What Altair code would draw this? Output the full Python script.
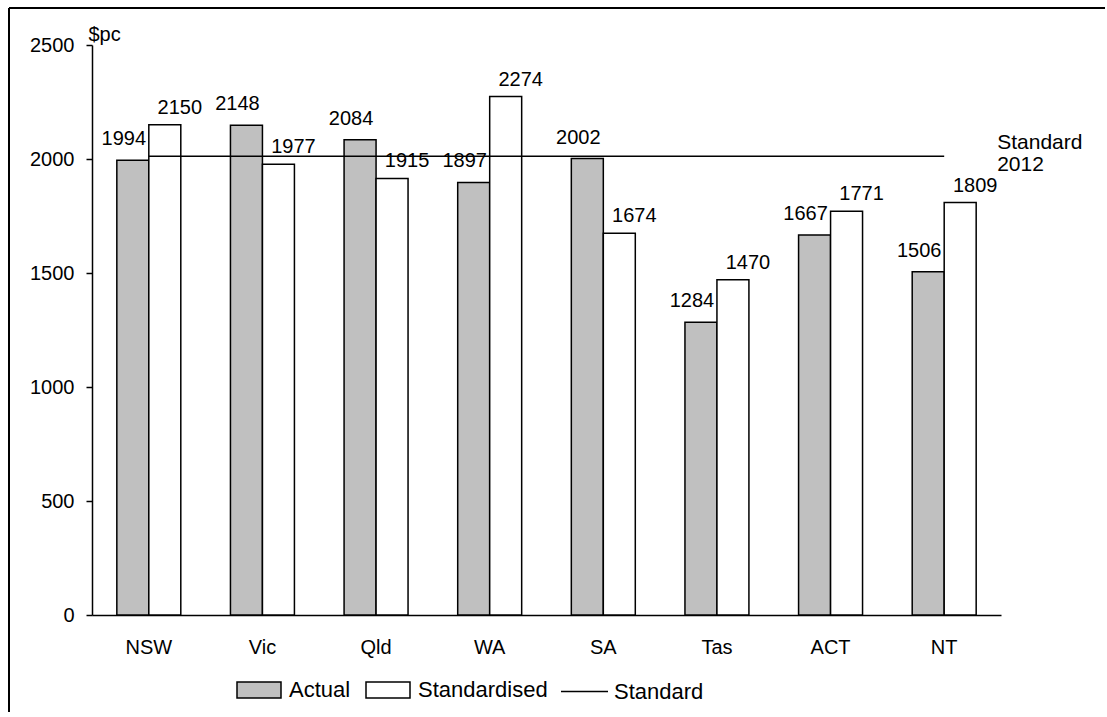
import altair as alt
import pandas as pd

# State-level spending, $ per capita
states = ["NSW", "Vic", "Qld", "WA", "SA", "Tas", "ACT", "NT"]
actual = [1994, 2148, 2084, 1897, 2002, 1284, 1667, 1506]
standardised = [2150, 1977, 1915, 2274, 1674, 1470, 1771, 1809]
standard_value = 2012
series_names = ["Actual", "Standardised"]
line_name = "Standard"
y_ticks = [0, 500, 1000, 1500, 2000, 2500]

bars = pd.DataFrame(
    [{"state": s, "series": series_names[0], "value": v} for s, v in zip(states, actual)]
    + [{"state": s, "series": series_names[1], "value": v} for s, v in zip(states, standardised)]
)
std_line = pd.DataFrame({"state": states, "line": [line_name] * len(states),
                         "value": [standard_value] * len(states)})
std_label = pd.DataFrame({"state": [states[-1]], "value": [standard_value],
                          "label": [["Standard", str(standard_value)]]})

FONT = "Liberation Sans"
W, H = 909, 570

x_scale = alt.Scale(domain=states, paddingInner=0.437, paddingOuter=0.2185)
y_scale = alt.Scale(domain=[0, 2500], nice=False)

x_enc = alt.X("state:N", scale=x_scale, sort=states,
              axis=alt.Axis(title=None, labelAngle=0, ticks=False, labelPadding=22,
                            labelFontSize=20, labelFont=FONT, labelColor="black",
                            domainColor="black", domainWidth=1.5))
y_enc = alt.Y("value:Q", scale=y_scale,
              axis=alt.Axis(values=y_ticks, format="d", grid=False, title="$pc",
                            titleAngle=0, titleX=-4, titleY=-5, titleAlign="left",
                            titleBaseline="alphabetic", titleFont=FONT,
                            titleFontSize=20, titleFontWeight="normal", titleColor="black",
                            labelFont=FONT, labelFontSize=20, labelColor="black",
                            labelPadding=12, tickSize=6, tickColor="black",
                            tickWidth=1.5, domainColor="black", domainWidth=1.5))

bar_path = "M-1,-0.36H1V0.36H-1Z"

bar_layer = alt.Chart(bars).mark_bar(stroke="black", strokeWidth=1.5).encode(
    x=x_enc,
    y=y_enc,
    xOffset=alt.XOffset("series:N", sort=series_names,
                        scale=alt.Scale(domain=series_names, paddingInner=0, paddingOuter=0)),
    fill=alt.Fill("series:N", sort=series_names,
                  scale=alt.Scale(domain=series_names, range=["#c0c0c0", "#ffffff"]),
                  legend=alt.Legend(title=None, orient="none", direction="horizontal",
                                    legendX=144, legendY=622, symbolType=bar_path,
                                    symbolSize=1936, symbolStrokeColor="black",
                                    symbolStrokeWidth=1.5, labelFont=FONT,
                                    labelFontSize=22, labelColor="black",
                                    labelOffset=7, columnPadding=12, symbolOpacity=1)),
)

def value_text(name, dx, dy):
    return alt.Chart(bars).transform_filter(
        alt.datum.series == name
    ).mark_text(font=FONT, fontSize=20, color="black", baseline="bottom",
                align="center", dx=dx, dy=dy).encode(
        x=alt.X("state:N", scale=x_scale, sort=states),
        xOffset=alt.XOffset("series:N", sort=series_names,
                            scale=alt.Scale(domain=series_names, paddingInner=0, paddingOuter=0)),
        y=alt.Y("value:Q", scale=y_scale),
        text="value:Q",
    )

actual_text = value_text("Actual", -9, -11)
std_text = value_text("Standardised", 15, -7)

line_layer = alt.Chart(std_line).mark_line(strokeWidth=1.5).encode(
    x=alt.X("state:N", scale=x_scale, sort=states),
    y=alt.Y("value:Q", scale=y_scale),
    stroke=alt.Stroke("line:N", scale=alt.Scale(domain=[line_name], range=["black"]),
                      legend=alt.Legend(title=None, orient="none", legendX=468,
                                        legendY=622, symbolType="stroke",
                                        symbolSize=2209, symbolStrokeWidth=1.5,
                                        labelFont=FONT, labelFontSize=22,
                                        labelColor="black", labelOffset=5)),
)

label_layer = alt.Chart(std_label).mark_text(
    font=FONT, fontSize=21, color="black", align="left", baseline="middle",
    dx=53, dy=-13, lineHeight=22
).encode(
    x=alt.X("state:N", scale=x_scale, sort=states),
    y=alt.Y("value:Q", scale=y_scale),
    text="label",
)

# Outer frame: top and left edges
frame_top = alt.Chart(pd.DataFrame({"k": [0]})).mark_rule(color="black", strokeWidth=2).encode(
    x=alt.value(-83), x2=alt.value(1013), y=alt.value(-37)
)
frame_left = alt.Chart(pd.DataFrame({"k": [0]})).mark_rule(color="black", strokeWidth=2).encode(
    x=alt.value(-83), y=alt.value(-37), y2=alt.value(667)
)

chart = alt.layer(
    bar_layer, line_layer, actual_text, std_text, label_layer, frame_top, frame_left
).resolve_scale(
    fill="independent", stroke="independent"
).properties(
    width=W, height=H,
    padding={"left": 8, "top": 7, "right": 0, "bottom": 0},
    background="white",
).configure_view(stroke=None)

chart.save("out.html", embed_options={"renderer": "svg", "actions": False})
